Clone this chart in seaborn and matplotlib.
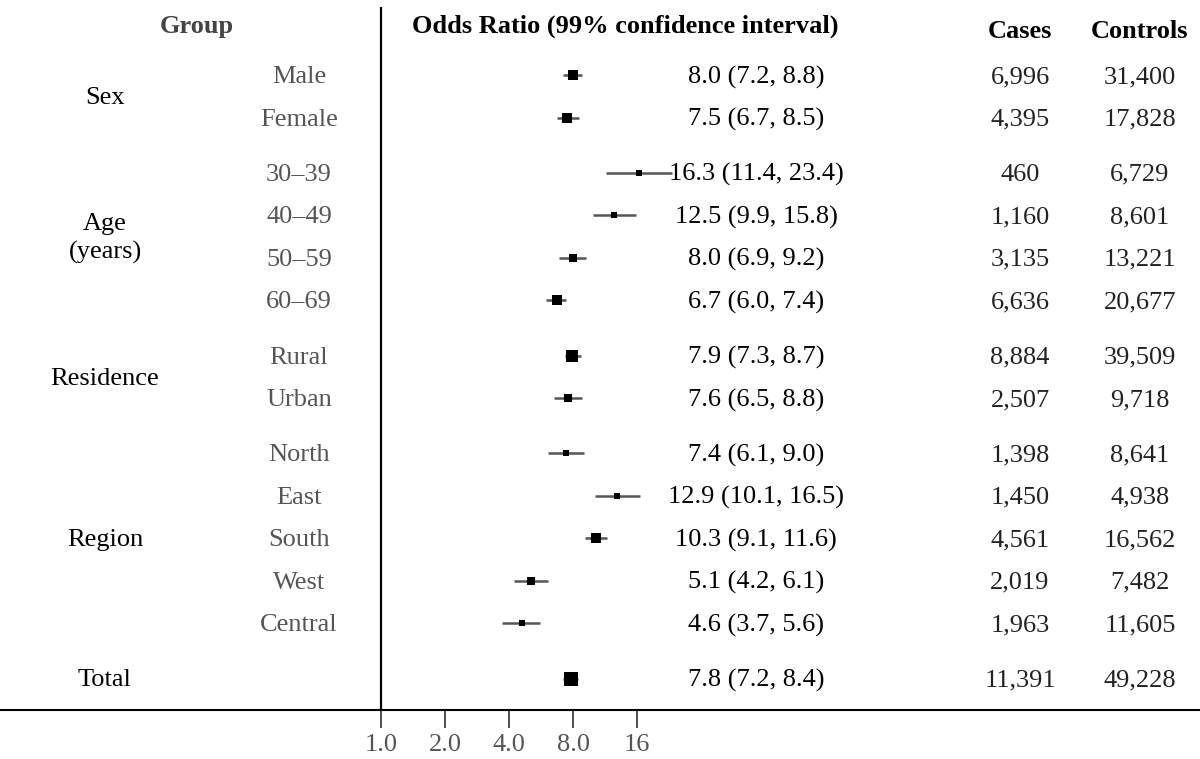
import numpy as np
import pandas as pd
import seaborn as sns
import matplotlib
matplotlib.use("Agg")
import matplotlib.pyplot as plt
import matplotlib.transforms as mtransforms

# ---- data -------------------------------------------------------------
groups = ["Sex", "Age\n(years)", "Residence", "Region", "Total"]
group_sizes = [2, 4, 2, 5, 1]
subgroups = ["Male", "Female", "30–39", "40–49", "50–59", "60–69",
             "Rural", "Urban", "North", "East", "South", "West", "Central", ""]
odds_ratio = [8.0, 7.5, 16.3, 12.5, 8.0, 6.7, 7.9, 7.6, 7.4, 12.9, 10.3, 5.1, 4.6, 7.8]
ci_low = [7.2, 6.7, 11.4, 9.9, 6.9, 6.0, 7.3, 6.5, 6.1, 10.1, 9.1, 4.2, 3.7, 7.2]
ci_high = [8.8, 8.5, 23.4, 15.8, 9.2, 7.4, 8.7, 8.8, 9.0, 16.5, 11.6, 6.1, 5.6, 8.4]
cases = [6996, 4395, 460, 1160, 3135, 6636, 8884, 2507, 1398, 1450, 4561, 2019, 1963, 11391]
controls = [31400, 17828, 6729, 8601, 13221, 20677, 39509, 9718, 8641, 4938, 16562, 7482, 11605, 49228]
tick_values = [1, 2, 4, 8, 16]
tick_labels = ["1.0", "2.0", "4.0", "8.0", "16"]

# ---- layout of rows ---------------------------------------------------
GAP = 1.3
ypos = []
group_centers = []
y = 0.0
for gi, n in enumerate(group_sizes):
    rows = []
    for _ in range(n):
        rows.append(y)
        y += 1.0
    ypos.extend(rows)
    group_centers.append(np.mean(rows))
    y += GAP - 1.0

df = pd.DataFrame({
    "sub": subgroups, "or": odds_ratio, "lo": ci_low, "hi": ci_high,
    "cases": cases, "controls": controls, "y": ypos,
})
# marker size from precision of the estimate (narrower CI -> larger box)
inv_width = 1.0 / np.log(df["hi"] / df["lo"])
df["msize"] = (3.0 + 1.55 * inv_width) * 72 / 100  # points

# ---- figure -----------------------------------------------------------
sns.set_theme(style="white")
SERIF = ["Liberation Serif", "DejaVu Serif"]
plt.rcParams["font.family"] = SERIF
W, H, DPI = 1200, 759, 100
fig = plt.figure(figsize=(W / DPI, H / DPI), dpi=DPI)
ax_bottom = (H - 710) / H
ax_top = (H - 7) / H
ax = fig.add_axes([0, ax_bottom, 1, ax_top - ax_bottom])

ax.set_xscale("log", base=2)
x_left = 2 ** (-381 / 64)
x_right = 2 ** ((1200 - 381) / 64)
ax.set_xlim(x_left, x_right)
ax.set_ylim((710 - 75) / 42.5, (7 - 75) / 42.5)

# confidence intervals and point estimates
ax.hlines(df["y"], df["lo"], df["hi"], color="#555555", lw=1.8, zorder=2)
for _, r in df.iterrows():
    ax.plot(r["or"], r["y"], marker="s", ms=r["msize"], color="black",
            mec="black", mew=0, zorder=3)

ax.axvline(1, color="black", lw=1.6, zorder=1)

for s in ["top", "right", "left"]:
    ax.spines[s].set_visible(False)
ax.spines["bottom"].set_color("black")
ax.spines["bottom"].set_linewidth(1.5)
ax.set_xticks(tick_values)
ax.set_xticklabels(tick_labels, family=SERIF)
ax.minorticks_off()
ax.tick_params(axis="x", direction="out", length=13, width=1.2, color="#333333",
               labelsize=19, labelcolor="#555555", pad=4, bottom=True)
ax.set_yticks([])
ax.grid(False)

trans = mtransforms.blended_transform_factory(ax.transAxes, ax.transData)
FS = 19
DY = 2 / 42.5  # nudge text baseline slightly down

def fx(px):
    return px / W

def put(px, yv, s, **kw):
    kw.setdefault("fontsize", FS)
    ax.text(fx(px), yv + DY, s, transform=trans, ha="center", va="center",
            family=SERIF, **kw)

head_y = (24 - 75) / 42.5
head_y2 = (30 - 75) / 42.5
put(197, head_y, "Group", fontweight="bold", color="#444444")
put(625, head_y, "Odds Ratio (99% confidence interval)", fontweight="bold", color="black")
put(1020, head_y2, "Cases", fontweight="bold", color="black")
put(1140, head_y2, "Controls", fontweight="bold", color="black")

for g, gy in zip(groups, group_centers):
    put(105, gy, g, color="black", linespacing=1.3)

for _, r in df.iterrows():
    if r["sub"]:
        put(299, r["y"], r["sub"], color="#555555")
    put(756, r["y"], f"{r['or']:.1f} ({r['lo']:.1f}, {r['hi']:.1f})", color="black")
    put(1020, r["y"], f"{r['cases']:,}", color="#222222")
    put(1140, r["y"], f"{r['controls']:,}", color="#222222")

fig.savefig("out.png", dpi=DPI)
